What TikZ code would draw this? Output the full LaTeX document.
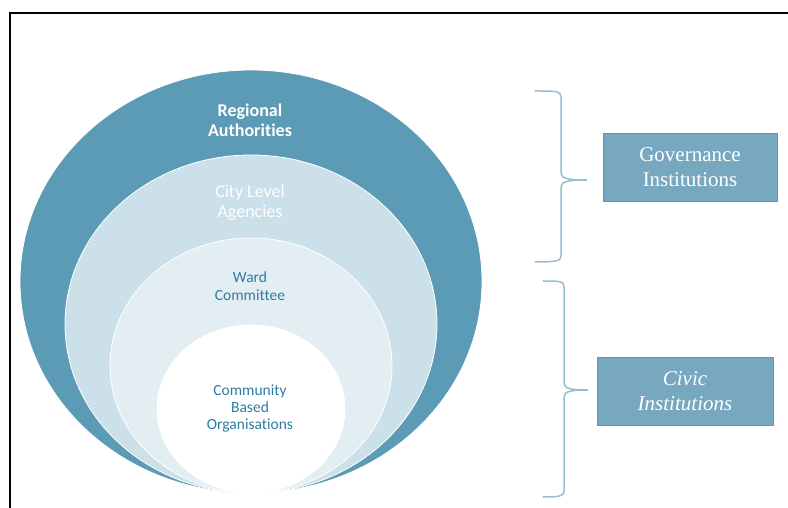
\documentclass[tikz,border=0pt]{standalone}
\usepackage{fontspec}
\setmainfont[Ligatures=NoCommon]{Carlito}
\newfontfamily\boxfont{Liberation Serif}
\usepackage{xcolor}
\usetikzlibrary{calc,positioning}

\definecolor{ringdark}{RGB}{92,155,182}
\definecolor{ringmid}{RGB}{203,224,232}
\definecolor{ringlight}{RGB}{227,238,243}
\definecolor{ringtext}{RGB}{46,125,160}
\definecolor{boxfill}{RGB}{119,168,192}
\definecolor{boxline}{RGB}{96,150,178}
\definecolor{bracecol}{RGB}{150,190,210}

\tikzset{
    ring/.style = {draw=white, line width=0.8pt},
    instbox/.style = {draw=boxline, fill=boxfill, text=white, align=center,
        minimum height=68pt, font=\boxfont\fontsize{21}{25}\selectfont},
    bracket/.style = {draw=bracecol, line width=1.5pt, line cap=round}
}

\begin{document}
\begin{tikzpicture}[x=1pt, y=1pt]
        \useasboundingbox (0,0) rectangle (788,507);
        \draw [black, line width=2pt] (10,-5) -- (10,494) -- (795,494); % frame

        \draw [ring, fill=ringdark]  (251, 225.5) ellipse (231pt and 211.5pt); % regional
        \draw [ring, fill=ringmid]   (251, 183) ellipse (186pt and 169pt);     % city
        \draw [ring, fill=ringlight] (251, 141.5) ellipse (141pt and 127.5pt); % ward
        \draw [ring, fill=white]     (251, 98) ellipse (94pt and 84pt);        % community

        \node (ra) [text=white, align=center, font=\bfseries\fontsize{18}{20}\selectfont] at (250, 387) {Regional\\Authorities};
        \node (cla) [text=white, align=center, font=\fontsize{18}{20}\selectfont] at (250, 304) {City Level\\Agencies};
        \node (wc) [text=ringtext, align=center, font=\fontsize{15.5}{18}\selectfont] at (250, 221) {Ward\\Committee};
        \node (cbo) [text=ringtext, align=center, font=\fontsize{15.5}{17}\selectfont] at (250, 99) {Community\\Based\\Organisations};

        \node (gov) [instbox, minimum width=174pt] at (690, 339.5) {Governance\\Institutions};
        \node (civ) [instbox, minimum width=176pt] at (685, 115.5) {\itshape Civic\\\itshape Institutions};

        % braces
        \draw [bracket] (535,416) .. controls (556,416) and (561,416) .. (561,410) -- (561,334)
            .. controls (561,328) and (570,327) .. (587,327)
            .. controls (570,327) and (561,326) .. (561,320) -- (561,251)
            .. controls (561,246) and (556,245) .. (535,245);
        \draw [bracket] (543,226) .. controls (560,226) and (564,226) .. (564,220) -- (564,124)
            .. controls (564,118) and (572,117) .. (588,117)
            .. controls (572,117) and (564,116) .. (564,110) -- (564,16)
            .. controls (564,11) and (560,10) .. (543,10);
    \end{tikzpicture}
\end{document}
